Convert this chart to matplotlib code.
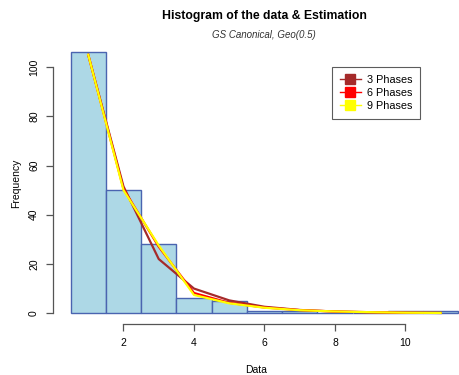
import numpy as np
import matplotlib.pyplot as plt
from matplotlib.lines import Line2D

plt.rcParams['font.family'] = ['Liberation Sans', 'DejaVu Sans']

# histogram counts, unit bins centred on 1..11
bin_edges = np.arange(0.5, 12.0, 1.0)
counts = [106, 50, 28, 6, 5, 1, 1, 0, 0, 1, 1]

# fitted frequencies at the bin centres
x_fit = np.arange(1, 12)
phase3 = [105, 51.5, 22, 10, 5.2, 2.6, 1.3, 0.65, 0.32, 0.16, 0.08]
phase6 = [105, 50.5, 27, 8.2, 4.2, 2.3, 1.25, 0.7, 0.4, 0.2, 0.1]
phase9 = [105, 50, 27.5, 7.4, 4.0, 2.2, 1.2, 0.7, 0.4, 0.2, 0.1]

W, H = 459, 375
fig = plt.figure(figsize=(W / 100, H / 100), dpi=100)
left, right, bottom, top = 53, 459, 324, 42
ax = fig.add_axes([left / W, 1 - bottom / H, (right - left) / W, (bottom - top) / H])

ax.bar(bin_edges[:-1], counts, width=1.0, align='edge', color='#add8e6',
       edgecolor='#4a64b0', linewidth=1.0, zorder=1)

ax.plot(x_fit, phase3, color='#a52a2a', lw=1.6, zorder=2)
ax.plot(x_fit, phase6, color='#ff0000', lw=1.6, zorder=3)
ax.plot(x_fit, phase9, color='#ffff00', lw=1.6, zorder=4)

ax.set_xlim(0.0, 11.52)
ax.set_ylim(-4.4, 110.2)
ax.set_xticks([2, 4, 6, 8, 10])
ax.set_yticks([0, 20, 40, 60, 80, 100])
ax.set_yticklabels(['0', '20', '40', '60', '80', '100'], rotation=90, va='center')
for s in ['top', 'right']:
    ax.spines[s].set_visible(False)
ax.spines['left'].set_bounds(0, 100)
ax.spines['bottom'].set_bounds(2, 10)
for s in ['left', 'bottom']:
    ax.spines[s].set_color('#555555')
    ax.spines[s].set_linewidth(0.9)
ax.tick_params(length=5, width=0.9, color='#555555', labelsize=7.5, pad=5)

ax.set_xlabel('Data', fontsize=7.5, labelpad=12)
ax.set_ylabel('Frequency', fontsize=7.5, labelpad=6)

fig.text(264 / W, 1 - 16 / H, 'Histogram of the data & Estimation',
         ha='center', va='center', fontsize=8.8, fontweight='bold')
fig.text(264 / W, 1 - 35 / H, 'GS Canonical, Geo(0.5)',
         ha='center', va='center', fontsize=7, style='italic', color='#333333')

handles = [Line2D([], [], color=c, lw=1.0, marker='s', markersize=7.5,
                  markeredgecolor=c) for c in ['#a52a2a', '#ff0000', '#ffff00']]
leg = fig.legend(handles, ['3 Phases', '6 Phases', '9 Phases'],
                 loc='upper left', bbox_to_anchor=(332 / W, 1 - 67 / H),
                 fontsize=7.8, frameon=True, fancybox=False, edgecolor='#333333',
                 handlelength=2.0, handletextpad=0.5, labelspacing=0.3,
                 borderpad=0.7, borderaxespad=0)
leg.get_frame().set_linewidth(0.8)

fig.savefig('out.png', dpi=100)
